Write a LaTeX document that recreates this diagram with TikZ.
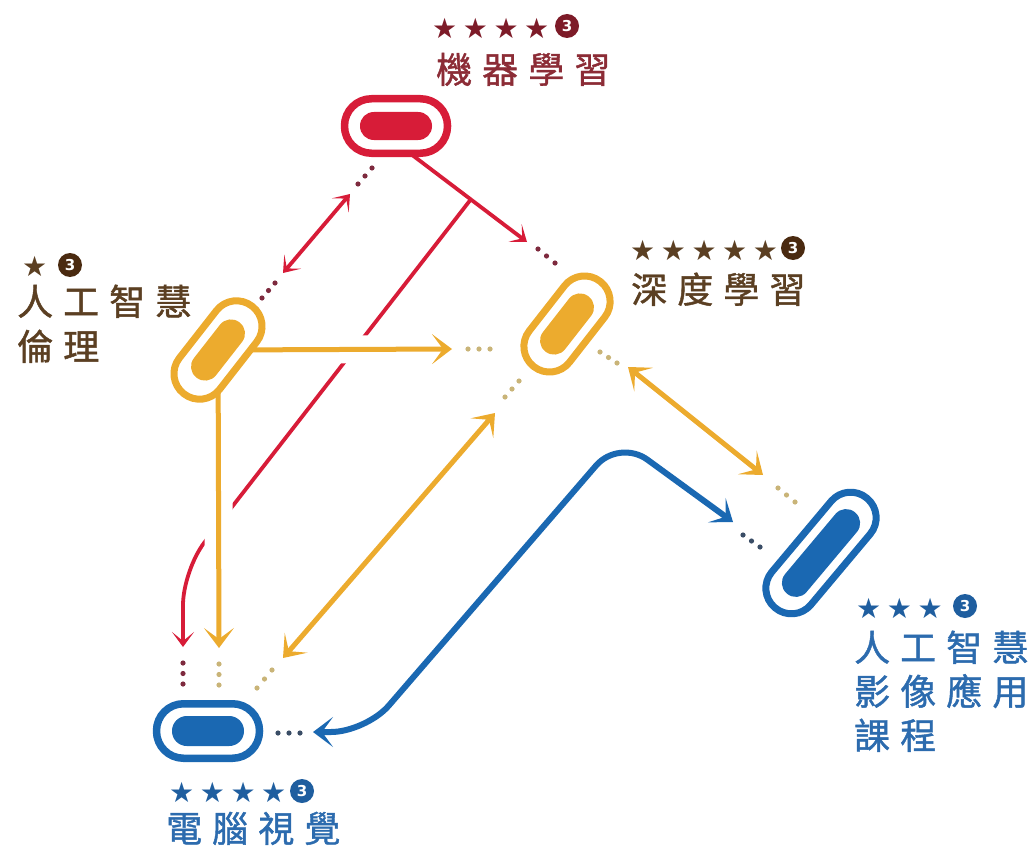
\documentclass[tikz,border=0pt]{standalone}
\usepackage{fontspec}
\newfontfamily\cjk[LetterSpace=28,FakeBold=1.2]{Noto Sans CJK TC}
\newfontfamily\symf[LetterSpace=20]{DejaVu Sans}
\newfontfamily\numf{DejaVu Sans}
\usetikzlibrary{arrows.meta,calc,backgrounds}
\definecolor{cred}{HTML}{D71C38}
\definecolor{cyel}{HTML}{ECAB2E}
\definecolor{cblu}{HTML}{1A68B2}
\definecolor{tred}{HTML}{8C2C36}
\definecolor{nred}{HTML}{7D1B28}
\definecolor{tbrn}{HTML}{5B3F22}
\definecolor{nbrn}{HTML}{4A2A10}
\definecolor{tblu}{HTML}{2C6BAE}
\definecolor{nblu}{HTML}{1F5E9F}
\definecolor{dred}{HTML}{7E2A3E}
\definecolor{dyel}{HTML}{C9B478}
\definecolor{dblu}{HTML}{3A4D66}
\newcommand\tdots[3]{\fill[#1] (#2) circle (2.6pt) ($(#2)!0.5!(#3)$) circle (2.6pt) (#3) circle (2.6pt);}
\begin{document}
\begin{tikzpicture}[x=1pt,y=-1pt,
  capH/.style={draw=#1, line width=7.5pt, inner sep=0, outer sep=0, minimum width=103, minimum height=54.5, rounded corners=27pt},
  capT/.style={draw=#1, line width=7pt, inner sep=0, outer sep=0, minimum height=51, rounded corners=25.3pt},
  inner/.style={fill=#1, inner sep=0, outer sep=0, minimum height=28, rounded corners=13.8pt},
  lab/.style={anchor=base west, inner sep=0, font=\cjk\fontsize{36}{36}\selectfont},
  stars/.style={anchor=west, inner sep=0, font=\symf\fontsize{28}{28}\selectfont},
  num/.style={circle, fill=#1, inner sep=0, minimum size=24, text=white, font=\numf\bfseries\fontsize{15}{15}\selectfont},
  rline/.style={cred, line width=3.8pt, arrows={-Stealth[length=15pt,width=22pt,inset=9pt]}},
  yline/.style={cyel, line width=5pt, arrows={-Stealth[length=20pt,width=30pt,inset=11pt]}},
  bline/.style={cblu, line width=6pt, arrows={-Stealth[length=20pt,width=30pt,inset=11pt]}},
  halo/.style={white, line width=28pt}
]
\path[use as bounding box] (0,0) rectangle (1030,848);

% nodes
\node[capH=cred] (ml) at (396,126) {};
\node[inner=cred, minimum width=72] (mli) at (ml.center) {};
\node[capT=cyel, minimum width=111, rotate=52] (eth) at (218,350) {};
\node[inner=cyel, minimum width=70, rotate=52] (ethi) at (eth.center) {};
\node[capT=cyel, minimum width=108, rotate=52] (dl) at (567,324) {};
\node[inner=cyel, minimum width=70, rotate=52] (dli) at (dl.center) {};
\node[capT=cblu, minimum width=143, rotate=50] (ai) at (821,553) {};
\node[inner=cblu, minimum width=106, rotate=50] (aii) at (ai.center) {};
\node[capH=cblu] (cv) at (208,731) {};
\node[inner=cblu, minimum width=72, minimum height=30, rounded corners=14.8pt] (cvi) at (cv.center) {};

% labels
\node[stars, text=nred] (mls) at (432,28) {★★★★};
\node[num=nred] (mln) at (567,26) {3};
\node[lab, text=tred] (mlt) at (436,83) {機器學習};

\node[stars, text=tbrn] (eths) at (22,266) {★};
\node[num=nbrn] (ethn) at (70,265) {3};
\node[lab, text=tbrn] (etht1) at (17,315) {人工智慧};
\node[lab, text=tbrn] (etht2) at (17,360) {倫理};

\node[stars, text=tbrn] (dls) at (630,250) {★★★★★};
\node[num=nbrn] (dln) at (793,248) {3};
\node[lab, text=tbrn] (dlt) at (631,303) {深度學習};

\node[stars, text=nblu] (ais) at (856,608) {★★★};
\node[num=nblu] (ain) at (965,606) {3};
\node[lab, text=tblu] (ait1) at (854,661) {人工智慧};
\node[lab, text=tblu] (ait2) at (854,705) {影像應用};
\node[lab, text=tblu] (ait3) at (854,749) {課程};

\node[stars, text=nblu] (cvs) at (169,792) {★★★★};
\node[num=nblu] (cvn) at (302,791) {3};
\node[lab, text=tblu] (cvt) at (166,842) {電腦視覺};

% coordinates
\coordinate (r1t1) at (350,194);
\coordinate (r1t2) at (283,273);
\coordinate (r2t) at (527,242);
\coordinate (rb) at ($(ml.297)!0.52!(r2t)$);
\coordinate (rc) at (183,570);
\coordinate (r3t) at (183,647);
\coordinate (y1t) at (452,349);
\coordinate (y2t) at (219,648);
\coordinate (y3t1) at (283,658);
\coordinate (y3t2) at (495,413);
\coordinate (y4t1) at (628,367);
\coordinate (y4t2) at (763,475);
\coordinate (bt1) at (313,732);
\coordinate (bc1) at (366,732);
\coordinate (bc2) at (619,439);
\coordinate (bt2) at (733,522);

\begin{scope}[on background layer]
  % red
  \draw[rline, arrows={Stealth[length=15pt,width=22pt,inset=9pt]-Stealth[length=15pt,width=22pt,inset=9pt]}] (r1t1) -- (r1t2);
  \draw[rline] (ml.297) -- (r2t);
  \draw[rline, rounded corners=35pt] (rb) -- (rc) -- (r3t);
  % halos
  \draw[halo, shorten >=40pt] (eth) -- (y1t);
  \draw[halo, shorten >=40pt] (eth) -- (y2t);
  % yellow
  \draw[yline] (eth) -- (y1t);
  \draw[yline] (eth) -- (y2t);
  \draw[yline, arrows={Stealth[length=20pt,width=30pt,inset=11pt]-Stealth[length=20pt,width=30pt,inset=11pt]}] (y3t1) -- (y3t2);
  \draw[yline, arrows={Stealth[length=20pt,width=30pt,inset=11pt]-Stealth[length=20pt,width=30pt,inset=11pt]}] (y4t1) -- (y4t2);
  % blue
  \draw[bline, rounded corners=35pt, arrows={Stealth[length=20pt,width=30pt,inset=11pt]-Stealth[length=20pt,width=30pt,inset=11pt]}] (bt1) -- (bc1) -- (bc2) -- (bt2);
  % dots
  \coordinate (d1a) at (372,168); \coordinate (d1b) at (358,184);
  \coordinate (d2a) at (275,283); \coordinate (d2b) at (262,298);
  \coordinate (d3a) at (538,249); \coordinate (d3b) at (555,263);
  \coordinate (d4a) at (183,663); \coordinate (d4b) at (183,684);
  \coordinate (d5a) at (468,349); \coordinate (d5b) at (490,349);
  \coordinate (d6a) at (219,664); \coordinate (d6b) at (219,685);
  \coordinate (d7a) at (257,688); \coordinate (d7b) at (272,670);
  \coordinate (d8a) at (505,397); \coordinate (d8b) at (519,381);
  \coordinate (d9a) at (600,352); \coordinate (d9b) at (617,363);
  \coordinate (d10a) at (778,488); \coordinate (d10b) at (795,502);
  \coordinate (d11a) at (278,733); \coordinate (d11b) at (300,733);
  \coordinate (d12a) at (743,535); \coordinate (d12b) at (760,547);
  \tdots{dred}{d1a}{d1b}
  \tdots{dred}{d2a}{d2b}
  \tdots{dred}{d3a}{d3b}
  \tdots{dred}{d4a}{d4b}
  \tdots{dyel}{d5a}{d5b}
  \tdots{dyel}{d6a}{d6b}
  \tdots{dyel}{d7a}{d7b}
  \tdots{dyel}{d8a}{d8b}
  \tdots{dyel}{d9a}{d9b}
  \tdots{dyel}{d10a}{d10b}
  \tdots{dblu}{d11a}{d11b}
  \tdots{dblu}{d12a}{d12b}
\end{scope}
\end{tikzpicture}
\end{document}
